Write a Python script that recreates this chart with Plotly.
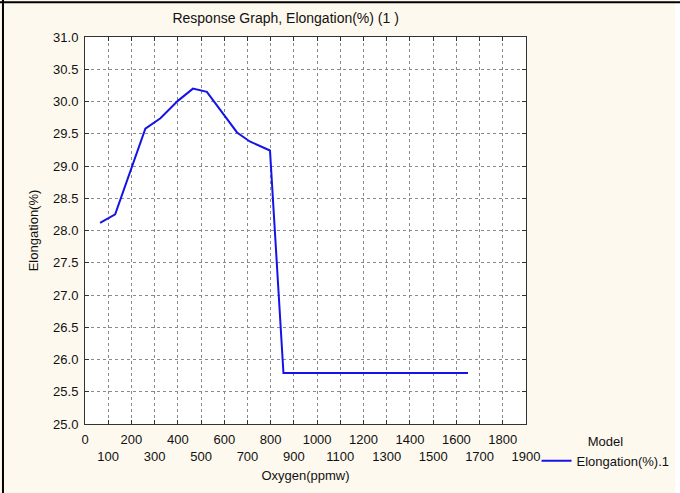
"""Response graph: elongation vs oxygen content."""

import plotly.graph_objects as go

# data
oxygen_ppmw = [65, 130, 260, 325, 400, 465, 525, 605, 655, 710, 797, 855, 1650]
elongation = [28.12, 28.25, 29.58, 29.74, 30.01, 30.20, 30.15, 29.76, 29.52, 29.38, 29.24, 25.79, 25.79]

x_ticks = list(range(0, 2000, 100))
x_labels = [str(v) if v % 200 == 0 else "<br>" + str(v) for v in x_ticks]
y_ticks = [25 + 0.5 * i for i in range(13)]

fig = go.Figure()
fig.add_trace(go.Scatter(
    x=oxygen_ppmw,
    y=elongation,
    mode="lines",
    name="Elongation(%).1",
    line=dict(color="#1414E6", width=2),
))

axis_common = dict(
    showline=True,
    linecolor="#333333",
    linewidth=1,
    mirror="ticks",
    ticks="inside",
    ticklen=4,
    tickcolor="#333333",
    showgrid=True,
    gridcolor="#8a8a8a",
    griddash="dot",
    gridwidth=1,
    zeroline=False,
    automargin=False,
    tickangle=0,
    ticklabelstandoff=3,
    tickfont=dict(size=13, color="#111111"),
)

fig.update_xaxes(
    range=[0, 1900],
    tickvals=x_ticks,
    ticktext=x_labels,
    title=dict(text="Oxygen(ppmw)", font=dict(size=13, color="#111111"), standoff=8),
    **axis_common,
)
fig.update_yaxes(
    range=[25, 31],
    tickvals=y_ticks,
    tickformat=".1f",
    title=dict(text="Elongation(%)", font=dict(size=13, color="#111111"), standoff=11),
    **axis_common,
)

fig.update_layout(
    width=680,
    height=493,
    margin=dict(l=85, r=154, t=37, b=69),
    font=dict(family="Liberation Sans, Arial, sans-serif", size=13, color="#111111"),
    paper_bgcolor="#FEF9EE",
    plot_bgcolor="#FFFFFF",
    title=dict(
        text="Response Graph, Elongation(%) (1 )",
        x=0.455, xref="paper", xanchor="center",
        y=0.963, yref="container", yanchor="middle",
        font=dict(size=14, color="#111111"),
    ),
    showlegend=True,
    legend=dict(
        title=dict(text="Model", side="top center", font=dict(size=13)),
        xref="container", yref="container",
        x=0.789, y=0.13, xanchor="left", yanchor="top",
        bgcolor="rgba(0,0,0,0)",
        font=dict(size=13),
    ),
    shapes=[
        # outer frame: black left and top edges, white strip on the right
        dict(type="rect", xref="paper", yref="paper", x0=1.338, x1=1.4, y0=-0.3, y1=1.2,
             line=dict(width=0), fillcolor="#FFFFFF", layer="below"),
        dict(type="line", xref="paper", yref="paper", x0=-0.186, x1=-0.186, y0=-0.3, y1=1.2,
             line=dict(color="#000000", width=2)),
        dict(type="line", xref="paper", yref="paper", x0=-0.3, x1=1.4, y0=1.09, y1=1.09,
             line=dict(color="#000000", width=2)),
    ],
)

# the page's default 8px body margin would shift the figure; drop it
fig.write_html(
    "out.html",
    config={"displayModeBar": False},
    post_script="document.body.style.margin='0';",
)
